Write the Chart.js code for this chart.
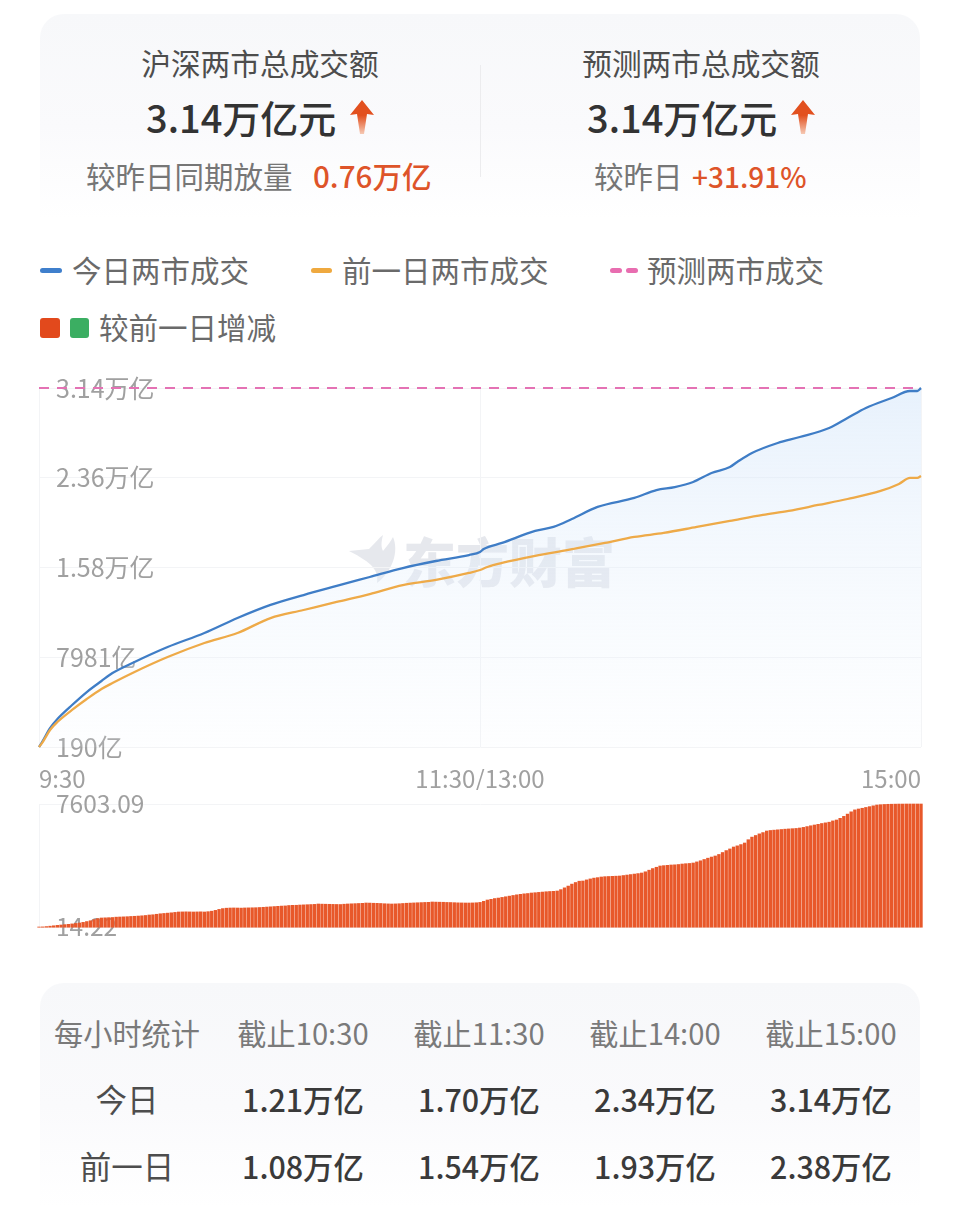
<!DOCTYPE html>
<html lang="zh"><head><meta charset="utf-8">
<script src="https://cdn.jsdelivr.net/npm/chart.js@4"></script>
<style>
html,body{margin:0;padding:0;background:#fff}
body{width:960px;height:1226px;position:relative;overflow:hidden;font-family:"Noto Sans CJK SC","Noto Sans",sans-serif}
.t{position:absolute;white-space:nowrap;transform:translateY(-50%);line-height:1;margin-top:-1.5px}
.c{transform:translate(-50%,-50%)}
.panel{position:absolute;left:40px;width:880px;border-radius:24px 24px 0 0;background:linear-gradient(#f7f8fa,#fafafc 55%,#fff)}
.h{font-size:29.7px;color:#4d4d4d}
.big{font-size:38px;font-weight:500;color:#333}
.s{font-size:29.5px;color:#767676}
.o{font-size:29.6px;font-weight:500;color:#de5429}
.o2{font-size:28px;font-weight:500;color:#de5429}
.lg{font-size:29.5px;color:#6a6a6a}
.th{font-size:29.2px;color:#7a7a7a}
.td{font-size:30.4px;font-weight:500;color:#3a3a3a}
.rh{font-size:31.5px;color:#4d4d4d}
canvas{position:absolute;left:0}
.key{position:absolute;border-radius:3px}
</style></head>
<body>
<div class="panel" style="top:14px;height:205px"></div>
<div style="position:absolute;left:480px;top:65px;width:1px;height:112px;background:#ececee"></div>
<div class="t c h" style="left:260px;top:64px">沪深两市总成交额</div>
<div class="t big" style="left:146px;top:118px">3.14万亿元</div>
<svg style="position:absolute;left:348px;top:99px" width="28" height="36" viewBox="0 0 28 36"><defs><linearGradient id="g1" x1="0" y1="0" x2="0" y2="1"><stop offset="0.45" stop-color="#e2501f"/><stop offset="1" stop-color="#f6c9b4"/></linearGradient></defs><path d="M14 1 L26 16 L19 15 L16 35 L12 35 L9 15 L2 16 Z" fill="url(#g1)"/></svg>
<div class="t s" style="left:86px;top:177px">较昨日同期放量</div>
<div class="t o" style="left:313px;top:177px">0.76万亿</div>
<div class="t c h" style="left:701px;top:64px">预测两市总成交额</div>
<div class="t big" style="left:587px;top:118px">3.14万亿元</div>
<svg style="position:absolute;left:789px;top:99px" width="28" height="36" viewBox="0 0 28 36"><path d="M14 1 L26 16 L19 15 L16 35 L12 35 L9 15 L2 16 Z" fill="url(#g1)"/></svg>
<div class="t s" style="left:594px;top:177px">较昨日</div>
<div class="t o2" style="left:692px;top:177px">+31.91%</div>

<div class="key" style="left:40px;top:268px;width:22px;height:5px;background:#3f7fcc"></div>
<div class="t lg" style="left:72px;top:271px">今日两市成交</div>
<div class="key" style="left:311px;top:268px;width:21px;height:5px;background:#efa93f"></div>
<div class="t lg" style="left:342px;top:271px">前一日两市成交</div>
<div class="key" style="left:610px;top:268px;width:12px;height:5px;background:#e86db0"></div>
<div class="key" style="left:626px;top:268px;width:12px;height:5px;background:#e86db0"></div>
<div class="t lg" style="left:647px;top:271px">预测两市成交</div>
<div class="key" style="left:40px;top:318px;width:20px;height:20px;background:#e2491c"></div>
<div class="key" style="left:70px;top:318px;width:19px;height:20px;background:#3bae62"></div>
<div class="t lg" style="left:99px;top:328px">较前一日增减</div>

<svg style="position:absolute;left:347px;top:533px" width="54" height="54" viewBox="0 0 54 54"><path d="M2 18 L22 16 C28 10 32 5 36 2 C34 10 34 14 36 18 C41 12 44 8 46 4 C52 18 46 38 30 50 C32 38 26 30 2 18 Z" fill="#e6e8ed"/></svg>
<div class="t" style="left:403px;top:561px;font-size:53px;font-weight:900;color:#e6e8ed">东方财富</div>

<canvas id="mainChart" style="top:370px" width="960" height="420"></canvas>
<canvas id="diffChart" style="top:790px" width="960" height="150"></canvas>

<div class="panel" style="top:983px;height:225px"></div>
<div id="tbl"></div>

<script>
// Minute offsets from 9:30 (lunch break removed) and cumulative turnover, in 万亿
const todayMinutes = [0,1,3,5,9,13,17,20,26,35,45,54,63,72,81,90,99,108,117,120,121,126,135,140,145,152,162,168,173,178,183,188,190,194,201,207,215,220,225,232,237,239,240];
const todayValues  = [0.019,0.071,0.184,0.262,0.384,0.497,0.593,0.662,0.758,0.888,1.010,1.140,1.254,1.340,1.419,1.497,1.575,1.636,1.688,1.714,1.740,1.793,1.897,1.932,2.001,2.106,2.184,2.253,2.279,2.323,2.401,2.453,2.497,2.575,2.662,2.714,2.792,2.879,2.966,3.053,3.114,3.114,3.14];
const prevMinutes  = [0,1,3,5,9,13,17,20,26,35,45,54,63,72,81,90,99,108,117,120,122,126,135,144,154,162,170,179,188,197,204,212,220,229,234,237,239,240];
const prevValues   = [0.019,0.062,0.167,0.236,0.341,0.436,0.523,0.575,0.671,0.801,0.923,1.010,1.140,1.210,1.280,1.349,1.427,1.471,1.532,1.558,1.584,1.619,1.680,1.732,1.793,1.845,1.880,1.932,1.984,2.036,2.071,2.123,2.175,2.245,2.306,2.358,2.358,2.375];
const forecastMinutes = [0,240];
const forecastValues  = [3.14,3.14];
// Difference against the previous day for each minute, in 亿
const diffValues = [
14,20,40,65,90,115,137,160,180,205,235,
261,300,350,400,470,530,570,580,590,600,
622,631,640,650,665,675,690,705,725,755,
770,800,830,850,870,890,915,940,945,950,
945,940,945,950,940,960,990,1040,1100,1150,
1175,1186,1190,1185,1180,1190,1195,1200,1205,1217,
1230,1245,1260,1275,1290,1305,1315,1340,1350,1355,
1370,1380,1390,1400,1410,1433,1425,1420,1415,1410,
1405,1402,1420,1435,1445,1455,1465,1475,1495,1490,
1480,1475,1465,1450,1440,1433,1440,1450,1465,1480,
1490,1500,1510,1520,1530,1535,1557,1550,1545,1540,
1530,1525,1515,1505,1500,1495,1495,1500,1510,1532,
1600,1680,1720,1770,1800,1840,1880,1920,1960,2000,
2030,2060,2080,2112,2130,2150,2170,2190,2205,2215,
2235,2320,2430,2540,2660,2760,2840,2852,2920,2980,
3030,3060,3099,3120,3130,3140,3150,3161,3190,3220,
3250,3280,3310,3346,3420,3520,3620,3700,3778,3800,
3820,3840,3850,3870,3900,3920,3935,3963,4030,4100,
4180,4260,4330,4395,4490,4610,4730,4830,4950,5020,
5100,5197,5400,5560,5660,5760,5840,5937,5970,5990,
6010,6030,6050,6065,6080,6095,6122,6160,6210,6260,
6307,6350,6400,6440,6480,6560,6616,6720,6840,6980,
7120,7240,7295,7340,7390,7440,7490,7541,7560,7575,
7585,7590,7595,7600,7600,7603,7603,7603,7603,7603];
const yTickValues = [0.019,0.7981,1.58,2.36,3.14];
const yTickLabels = ['190亿','7981亿','1.58万亿','2.36万亿','3.14万亿'];
const xTickValues = [0,120,240];
const xTickLabels = ['9:30','11:30/13:00','15:00'];
const diffTickValues = [14.22,7603.09];
const diffTickLabels = ['14.22','7603.09'];
const tableHead = ['每小时统计','截止10:30','截止11:30','截止14:00','截止15:00'];
const tableToday = ['今日','1.21万亿','1.70万亿','2.34万亿','3.14万亿'];
const tablePrev = ['前一日','1.08万亿','1.54万亿','1.93万亿','2.38万亿'];

const FONT = '"Noto Sans CJK SC","Noto Sans",sans-serif';
const GRID = '#f3f4f6';
const TICK = '#a0a0a0';
const zip = (xs, ys) => xs.map((x, i) => ({x, y: ys[i]}));
const noPad = (s) => { s.paddingTop = 0; s.paddingBottom = 0; s.paddingLeft = 0; s.paddingRight = 0; };

new Chart(document.getElementById('mainChart'), {
  type: 'line',
  data: { datasets: [
    { label:'预测两市成交', data: zip(forecastMinutes, forecastValues), borderColor:'#e472b4', borderWidth:2, borderDash:[10,8], pointRadius:0, clip:false, fill:false },
    { label:'前一日两市成交', data: zip(prevMinutes, prevValues), borderColor:'#eeaa48', borderWidth:2.3, pointRadius:0, clip:false, fill:false, cubicInterpolationMode:'monotone' },
    { label:'今日两市成交', data: zip(todayMinutes, todayValues), borderColor:'#3f7dc6', borderWidth:2.3, pointRadius:0, clip:false, cubicInterpolationMode:'monotone',
      fill:'start',
      backgroundColor: (c) => {
        const a = c.chart.chartArea; if(!a) return 'transparent';
        const g = c.chart.ctx.createLinearGradient(0,a.top,0,a.bottom);
        g.addColorStop(0,'rgba(212,230,250,0.55)'); g.addColorStop(1,'rgba(240,246,253,0.12)');
        return g;
      } }
  ]},
  options: {
    responsive:false, animation:false, devicePixelRatio:1,
    layout:{padding:{left:39,right:39,top:18,bottom:0}},
    plugins:{legend:{display:false},tooltip:{enabled:false}},
    scales:{
      x:{ type:'linear', min:0, max:240, offset:false,
        afterBuildTicks:(s)=>{s.ticks=xTickValues.map(v=>({value:v}));},
        afterFit:(s)=>{s.height=43;noPad(s);},
        grid:{color:GRID,drawTicks:false}, border:{display:false},
        ticks:{align:'inner',autoSkip:false,maxRotation:0,padding:17,color:TICK,font:{family:FONT,size:24},callback:(v)=>xTickLabels[xTickValues.indexOf(v)]}
      },
      y:{ type:'linear', min:0.019, max:3.14,
        afterBuildTicks:(s)=>{s.ticks=yTickValues.map(v=>({value:v}));},
        afterFit:(s)=>{s.width=0;noPad(s);},
        grid:{color:GRID,drawTicks:false}, border:{display:true,color:GRID},
        ticks:{mirror:true,padding:17,autoSkip:false,color:TICK,font:{family:FONT,size:25},callback:(v)=>yTickLabels[yTickValues.indexOf(v)]}
      }
    }
  }
});

new Chart(document.getElementById('diffChart'), {
  type: 'bar',
  data: { datasets: [
    { label:'较前一日增减', data: diffValues.map((v,i)=>({x:i,y:v})), backgroundColor:'#e8582a', barThickness:2.7, clip:false }
  ]},
  options: {
    responsive:false, animation:false, devicePixelRatio:1, parsing:{xAxisKey:'x',yAxisKey:'y'},
    layout:{padding:{left:39,right:39,top:14,bottom:13}},
    plugins:{legend:{display:false},tooltip:{enabled:false}},
    scales:{
      x:{ type:'linear', min:0, max:240, offset:false, display:false, grid:{display:false,offset:false} },
      y:{ type:'linear', min:14.22, max:7603.09,
        afterBuildTicks:(s)=>{s.ticks=diffTickValues.map(v=>({value:v}));},
        afterFit:(s)=>{s.width=0;noPad(s);},
        grid:{color:GRID,drawTicks:false}, border:{display:true,color:GRID},
        ticks:{mirror:true,padding:17,autoSkip:false,color:TICK,font:{family:FONT,size:24.5},callback:(v)=>diffTickLabels[diffTickValues.indexOf(v)]}
      }
    }
  }
});

const colX = [127,303,479,655,831];
const rows = [[tableHead,1034,'th','th'],[tableToday,1100,'rh','td'],[tablePrev,1167,'rh','td']];
let html='';
rows.forEach(([r,y,c0,c1])=>r.forEach((txt,i)=>{
  html+=`<div class="t c ${i?c1:c0}" style="left:${colX[i]}px;top:${y}px">${txt}</div>`;
}));
document.getElementById('tbl').innerHTML=html;
</script>
</body></html>
